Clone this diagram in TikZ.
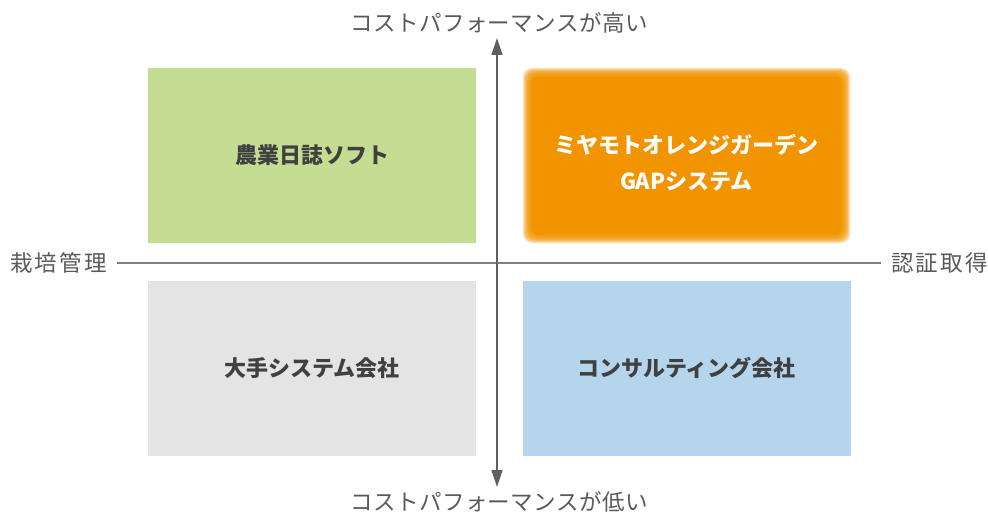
\documentclass[tikz,border=0pt]{standalone}
\usepackage{fontspec}
\setmainfont{Noto Sans CJK JP}
\usetikzlibrary{arrows.meta}
\definecolor{lbl}{HTML}{5A5A5A}
\definecolor{boxtxt}{HTML}{404040}
\definecolor{cgreen}{HTML}{C4DD92}
\definecolor{corange}{HTML}{F29400}
\definecolor{cgray}{HTML}{E4E4E4}
\definecolor{cblue}{HTML}{B4D5EC}
\definecolor{axis}{HTML}{7F7F7F}
\definecolor{arrowc}{HTML}{5F5F5F}
\tikzset{
  quad/.style={minimum width=328pt,minimum height=175pt,inner sep=0pt,outer sep=0pt,
    font=\fontsize{22}{36}\selectfont\bfseries,text=boxtxt,align=center},
  axlabel/.style={font=\fontsize{22.5}{26}\selectfont\addfontfeature{LetterSpace=2},text=lbl,inner sep=0pt},
  sidelabel/.style={font=\fontsize{22.5}{26}\selectfont\addfontfeature{LetterSpace=10},text=lbl,inner sep=0pt},
}
\begin{document}
\begin{tikzpicture}[x=1pt,y=1pt]
\useasboundingbox (0,0) rectangle (988,515);
% boxes
\node[quad,fill=cgreen] (q1) at (312,359.5) {\raisebox{-2pt}{農業日誌ソフト}};
\node[quad,fill=cgray] (q3) at (312,147) {大手システム会社};
\node[quad,fill=cblue] (q4) at (686.5,147) {コンサルティング会社};
% orange box with soft edge
\foreach \i in {0,...,9}{
  \fill[corange,opacity=0.27,rounded corners=9pt] (523+\i,272+\i) rectangle (850-\i,447-\i);
}
\fill[corange,rounded corners=3pt] (532,281) rectangle (841,438);
\node[quad,fill=none,text=white] (q2) at (686.5,352.5) {ミヤモトオレンジガーデン\\GAPシステム};
% axis labels
\node[axlabel] (top) at (499,492) {コストパフォーマンスが高い};
\node[axlabel] (bot) at (499,13) {コストパフォーマンスが低い};
\node[sidelabel,anchor=west] (left) at (10,252) {栽培管理};
\node[sidelabel,anchor=east] (right) at (988,252) {認証取得};
% axes
\draw[axis,line width=1.4pt,shorten <=10pt,shorten >=10pt] (left.east) -- (right.west);
\coordinate (atop) at (497,477);
\coordinate (abot) at (497,28);
\draw[arrowc,line width=1.6pt,{Triangle[width=11pt,length=17pt]}-{Triangle[width=11pt,length=17pt]}] (abot) -- (atop);
\end{tikzpicture}
\end{document}
